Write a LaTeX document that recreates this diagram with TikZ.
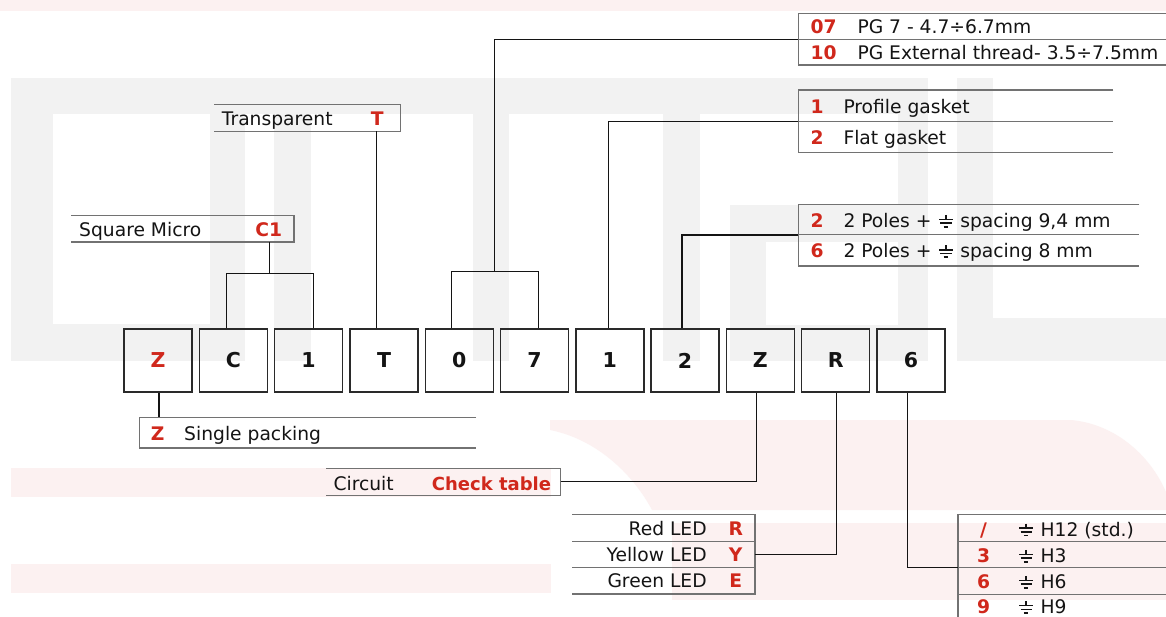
\documentclass[tikz,border=0pt]{standalone}
\usepackage{fontspec}
\setmainfont{DejaVu Sans}
\definecolor{bggray}{HTML}{F2F2F2}
\definecolor{bgpink}{HTML}{FCF1F1}
\definecolor{codered}{HTML}{D0281C}
\definecolor{ink}{HTML}{141414}
\definecolor{tabc}{HTML}{727272}
\definecolor{boxc}{HTML}{2A2A2A}
\newcommand\gnd{\hspace{0.05em}\tikz[baseline=0pt,x=1em,y=1em,line width=0.09em,draw=ink]{\draw (0,0.66)--(0,0.42) (-0.36,0.42)--(0.36,0.42) (-0.3,0.22)--(0.3,0.22) (-0.12,0.02)--(0.12,0.02);}\hspace{0.05em}}
\tikzset{
  box/.style={draw=boxc, line width=1.4pt, minimum width=68pt, minimum height=63pt, inner sep=0pt, font=\bfseries\fontsize{20.5}{24}\selectfont, text=ink},
  conn/.style={draw=ink, line width=1.25pt},
  tline/.style={draw=tabc, line width=1.5pt},
  lbl/.style={inner sep=0pt, anchor=base west, font=\fontsize{18.7}{22}\selectfont, text=ink},
  lblr/.style={inner sep=0pt, anchor=base east, font=\fontsize{18.7}{22}\selectfont, text=ink},
  code/.style={inner sep=0pt, anchor=base, font=\bfseries\fontsize{18.7}{22}\selectfont, text=codered},
  codel/.style={inner sep=0pt, anchor=base west, font=\bfseries\fontsize{18}{22}\selectfont, text=codered},
}
\begin{document}
\begin{tikzpicture}[x=1pt,y=-1pt]
\useasboundingbox (0,0) rectangle (1166,617);
\fill[white] (0,0) rectangle (1166,617);
% ---------- watermark background ----------
\fill[bgpink] (0,0) rectangle (1166,11);
\fill[bgpink] (10.7,468.3) rectangle (551,497.3);
\fill[bgpink] (10.7,564) rectangle (551,593.3);
\fill[bgpink] (550,420) -- (1071,420) .. controls (1115,424) and (1150,455) .. (1166,492) -- (1166,510) -- (652,510) .. controls (635,478) and (600,440) .. (550,430) -- cycle;
\fill[bgpink] (671.7,523) rectangle (1166,600);
\fill[bggray] (10.7,78.3) rectangle (928.3,114);
\fill[bggray] (10.7,78.3) rectangle (52.7,360.7);
\fill[bggray] (10.7,324) rectangle (245,360.7);
\fill[bggray] (210,78.3) rectangle (245,360.7);
\fill[bggray] (274.3,78.3) rectangle (310.7,360.7);
\fill[bggray] (472.7,78.3) rectangle (508.7,360.7);
\fill[bggray] (663.3,78.3) rectangle (700,360.7);
\fill[bggray] (730,205) rectangle (898.3,241.7);
\fill[bggray] (730,205) rectangle (766,360.7);
\fill[bggray] (730,325) rectangle (928.3,360.7);
\fill[bggray] (898.3,78.3) rectangle (928.3,360.7);
\fill[bggray] (956.7,78.3) rectangle (993.3,360.7);
\fill[bggray] (956.7,318.3) rectangle (1166,360.7);
% ---------- code boxes ----------
\node[box] (b1) at (158,360.5) {\textcolor{codered}{Z}};
\node[box] (b2) at (233.3,360.5) {C};
\node[box] (b3) at (308.6,360.5) {1};
\node[box] (b4) at (384,360.5) {T};
\node[box] (b5) at (459.2,360.5) {0};
\node[box] (b6) at (534.5,360.5) {7};
\node[box] (b7) at (609.8,360.5) {1};
\node[box] (b8) at (685,360.5) {2};
\node[box] (b9) at (760.4,360.5) {Z};
\node[box] (b10) at (835.7,360.5) {R};
\node[box] (b11) at (911,360.5) {6};
% ---------- tables ----------
% PG
\draw[tline] (1167,13.3) -- (798.3,13.3) -- (798.3,65) -- (1167,65);
\draw[tline] (798.3,39.3) -- (1167,39.3);
\node[code] (c07) at (823.5,33.5) {07};
\node[lbl] (t07) at (857.3,33.5) {PG 7 - 4.7÷6.7mm};
\node[code] (c10) at (823.5,59.5) {10};
\node[lbl] (t10) at (857.3,59.5) {PG External thread- 3.5÷7.5mm};
% gasket
\draw[tline] (1113.3,90) -- (798.3,90) -- (798.3,152.3) -- (1113.3,152.3);
\draw[tline] (798.3,121.7) -- (1113.3,121.7);
\node[code] (cg1) at (817,114) {1};
\node[lbl] (tg1) at (843.3,114) {Profile gasket};
\node[code] (cg2) at (817,145) {2};
\node[lbl] (tg2) at (843.3,145) {Flat gasket};
% poles
\draw[tline] (1139.3,204.7) -- (798.3,204.7) -- (798.3,266) -- (1139.3,266);
\draw[tline] (798.3,234.7) -- (1139.3,234.7);
\node[code] (cp2) at (817,227.3) {2};
\node[lbl] (tp2) at (843.3,227.3) {2 Poles + \gnd{} spacing 9,4 mm};
\node[code] (cp6) at (817,257.7) {6};
\node[lbl] (tp6) at (843.3,257.7) {2 Poles + \gnd{} spacing 8 mm};
% transparent
\draw[tline] (214.3,104.7) -- (400.7,104.7) -- (400.7,131.3) -- (214.3,131.3);
\node[lbl] (ttr) at (221.7,126) {Transparent};
\node[code] (ctr) at (377.3,126) {T};
% square micro
\draw[tline] (71.3,215.3) -- (294,215.3) -- (294,242) -- (71.3,242);
\node[lbl] (tsq) at (79,236.7) {Square Micro};
\node[code] (csq) at (268.7,236.7) {C1};
% single packing
\draw[tline] (476,417.3) -- (139.3,417.3) -- (139.3,448) -- (476,448);
\node[code] (cz) at (157.7,440.7) {Z};
\node[lbl] (tz) at (184,440.7) {Single packing};
% circuit
\draw[tline] (326,468.7) -- (560.7,468.7) -- (560.7,495.3) -- (326,495.3);
\node[lbl] (tci) at (333.3,490) {Circuit};
\node[codel] (cci) at (431.7,490) {Check table};
% LED
\draw[tline] (572,514.7) -- (754.8,514.7) -- (754.8,594) -- (572,594);
\draw[tline] (572,541.3) -- (754.8,541.3);
\draw[tline] (572,567.7) -- (754.8,567.7);
\node[lblr] (tlr) at (706.9,535) {Red LED};
\node[code] (clr) at (735.7,535) {R};
\node[lblr] (tly) at (706.9,561.7) {Yellow LED};
\node[code] (cly) at (735.7,561.7) {Y};
\node[lblr] (tlg) at (706.9,587.7) {Green LED};
\node[code] (clg) at (735.7,587.7) {E};
% H
\draw[tline] (1167,514.7) -- (958,514.7) -- (958,618);
\draw[tline] (958,541.3) -- (1167,541.3);
\draw[tline] (958,567.7) -- (1167,567.7);
\draw[tline] (958,594.3) -- (1167,594.3);
\node[code] (ch1) at (983.5,536) {/};
\node[lbl] (th1) at (1017.5,536) {\gnd{} H12 (std.)};
\node[code] (ch2) at (983.5,562.3) {3};
\node[lbl] (th2) at (1017.5,562.3) {\gnd{} H3};
\node[code] (ch3) at (983.5,588.3) {6};
\node[lbl] (th3) at (1017.5,588.3) {\gnd{} H6};
\node[code] (ch4) at (983.5,613.5) {9};
\node[lbl] (th4) at (1017.5,613.5) {\gnd{} H9};
% ---------- connectors ----------
\coordinate (zT) at (159,417.3);
\draw[conn] (b1.south -| zT) -- (zT);
\coordinate (c1B) at (269.7,242);
\coordinate (c1J) at (269.7,273.3);
\draw[conn] (c1B) -- (c1J);
\draw[conn] ([xshift=-6.6pt]b2.north) |- (c1J) -| ([xshift=4.7pt]b3.north);
\coordinate (tT) at (376.5,131.3);
\draw[conn] (tT) -- (tT |- b4.north);
\coordinate (pgA) at (798.3,39.3);
\coordinate (pgJ) at (494.7,271.7);
\draw[conn] (pgA) -| (pgJ);
\draw[conn] ([xshift=-7.5pt]b5.north) |- (pgJ) -| ([xshift=3.8pt]b6.north);
\coordinate (gkA) at (798.3,121.3);
\draw[conn] (gkA) -| ([xshift=-1.5pt]b7.north);
\coordinate (plA) at (798.3,235);
\draw[conn] (plA) -| ([xshift=-3pt]b8.north);
\coordinate (ckA) at (560.7,481.7);
\draw[conn] (ckA) -| ([xshift=-4pt]b9.south);
\coordinate (ledA) at (754.8,554.3);
\draw[conn] (ledA) -| ([xshift=1pt]b10.south);
\coordinate (hA) at (958,567.7);
\draw[conn] (hA) -| ([xshift=-3.3pt]b11.south);
\end{tikzpicture}
\end{document}
